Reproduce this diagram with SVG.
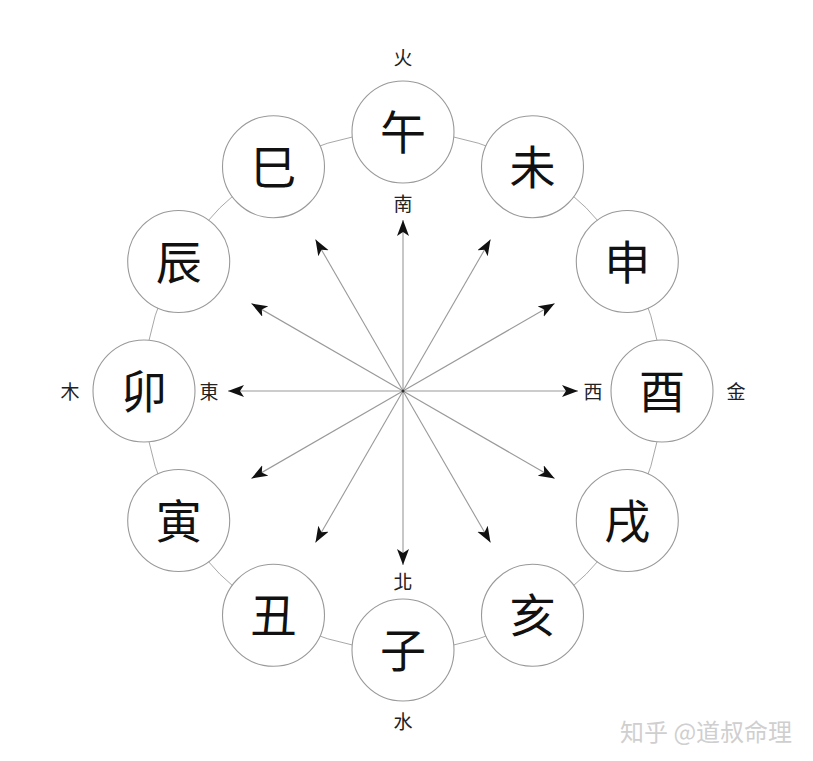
<svg xmlns="http://www.w3.org/2000/svg" width="813" height="761" viewBox="0 0 813 761">
<style>
.ring{fill:none;stroke:#a8a8a8;stroke-width:1}
.node circle{fill:#fff;stroke:#999;stroke-width:1.1}
.big{font-family:"Noto Sans CJK SC","Noto Sans CJK TC",sans-serif;font-size:46px;fill:#111;text-anchor:middle}
.lab{font-family:"Noto Sans CJK TC","Noto Sans CJK SC",sans-serif;font-size:19px;fill:#222;text-anchor:middle}
.ray{stroke:#999;stroke-width:1.1;fill:none;marker-end:url(#ah)}
.wm{font-family:"Noto Sans CJK SC",sans-serif;font-size:24px;fill:#cfcfcf}
</style>
<defs>
<marker id="ah" markerUnits="userSpaceOnUse" markerWidth="18" markerHeight="14" refX="16" refY="6" orient="auto" viewBox="0 0 18 14">
<path d="M0,0 L16,6 L0,12 L4,6 z" fill="#111"/>
</marker>
</defs>
<rect width="813" height="761" fill="#fff"/>
<g id="connectors">
<circle class="ring" cx="403" cy="391" r="259"/>
<line class="ray" x1="403" y1="391" x2="578" y2="391"/>
<line class="ray" x1="403" y1="391" x2="554.6" y2="478.5"/>
<line class="ray" x1="403" y1="391" x2="490.5" y2="542.6"/>
<line class="ray" x1="403" y1="391" x2="403" y2="565"/>
<line class="ray" x1="403" y1="391" x2="315.5" y2="542.6"/>
<line class="ray" x1="403" y1="391" x2="251.4" y2="478.5"/>
<line class="ray" x1="403" y1="391" x2="228" y2="391"/>
<line class="ray" x1="403" y1="391" x2="251.4" y2="303.5"/>
<line class="ray" x1="403" y1="391" x2="315.5" y2="239.4"/>
<line class="ray" x1="403" y1="391" x2="403" y2="220"/>
<line class="ray" x1="403" y1="391" x2="490.5" y2="239.4"/>
<line class="ray" x1="403" y1="391" x2="554.6" y2="303.5"/>
<circle cx="403" cy="391" r="1.5" fill="#333"/>
</g>
<g id="n-you" class="node"><circle cx="662" cy="391" r="51"/><text class="big" x="662" y="408">酉</text></g>
<g id="n-xu" class="node"><circle cx="627.3" cy="520.5" r="51"/><text class="big" x="627.3" y="537.5">戌</text></g>
<g id="n-hai" class="node"><circle cx="532.5" cy="615.3" r="51"/><text class="big" x="532.5" y="632.3">亥</text></g>
<g id="n-zi" class="node"><circle cx="403" cy="650" r="51"/><text class="big" x="403" y="667">子</text></g>
<g id="n-chou" class="node"><circle cx="273.5" cy="615.3" r="51"/><text class="big" x="273.5" y="632.3">丑</text></g>
<g id="n-yin" class="node"><circle cx="178.7" cy="520.5" r="51"/><text class="big" x="178.7" y="537.5">寅</text></g>
<g id="n-mao" class="node"><circle cx="144" cy="391" r="51"/><text class="big" x="144" y="408">卯</text></g>
<g id="n-chen" class="node"><circle cx="178.7" cy="261.5" r="51"/><text class="big" x="178.7" y="278.5">辰</text></g>
<g id="n-si" class="node"><circle cx="273.5" cy="166.7" r="51"/><text class="big" x="273.5" y="183.7">巳</text></g>
<g id="n-wu" class="node"><circle cx="403" cy="132" r="51"/><text class="big" x="403" y="149">午</text></g>
<g id="n-wei" class="node"><circle cx="532.5" cy="166.7" r="51"/><text class="big" x="532.5" y="183.7">未</text></g>
<g id="n-shen" class="node"><circle cx="627.3" cy="261.5" r="51"/><text class="big" x="627.3" y="278.5">申</text></g>
<g id="labels">
<text class="lab" x="403" y="65">火</text>
<text class="lab" x="403" y="211">南</text>
<text class="lab" x="403" y="589">北</text>
<text class="lab" x="403" y="729">水</text>
<text class="lab" x="70" y="399">木</text>
<text class="lab" x="209" y="399">東</text>
<text class="lab" x="593" y="399">西</text>
<text class="lab" x="736" y="399">金</text>
</g>
<text class="wm" x="620" y="741">知乎 @道叔命理</text>
</svg>
